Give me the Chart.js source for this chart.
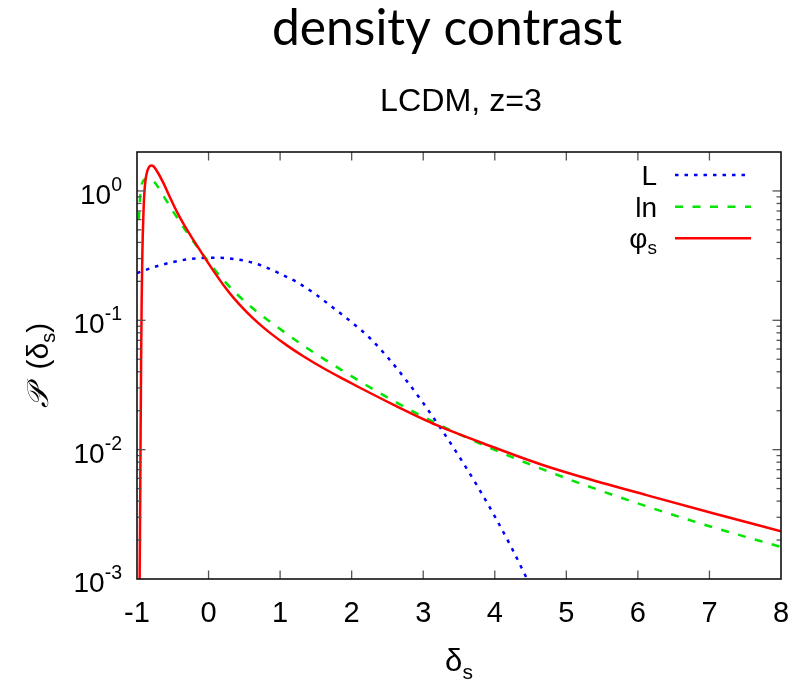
<!DOCTYPE html>
<html>
<head>
<meta charset="utf-8">
<script src="https://cdn.jsdelivr.net/npm/chart.js@4.4.0/dist/chart.umd.min.js"></script>
<style>
html,body{margin:0;padding:0;background:#fff;}
#wrap{width:800px;height:685px;position:relative;}
</style>
</head>
<body>
<div id="wrap"><canvas id="c" width="800" height="685"></canvas></div>
<script>
// ---- text ----
const titleText = 'density contrast';
const subtitleText = 'LCDM, z=3';
const seriesNames = ['L', 'ln', 'φ'];   // third gets subscript "s"
const seriesSub = ['', '', 's'];

// ---- tick labels ----
const xTickLabels = ['-1', '0', '1', '2', '3', '4', '5', '6', '7', '8'];
const yDecades = [0, -1, -2, -3];   // labels 10^0 ... 10^-3

// ---- series: L (dotted blue) ----
const deltaL = [-1, -0.75, -0.5, -0.25, 0, 0.25, 0.5, 0.75, 1.0, 1.25, 1.5, 1.75, 2.0, 2.25, 2.5, 2.75, 3.0, 3.25, 3.5, 3.75, 4.0, 4.25, 4.5, 4.6];
const pL     = [0.232, 0.259, 0.282, 0.298, 0.305, 0.302, 0.289, 0.264, 0.229, 0.195, 0.158, 0.124, 0.0966, 0.0733, 0.0519, 0.0351, 0.0229, 0.01445, 0.0089, 0.0053, 0.00305, 0.00168, 0.00088, 0.00068];

// ---- series: ln (dashed green) ----
const deltaLn = [-0.975, -0.96, -0.94, -0.92, -0.88, -0.84, -0.80, -0.73, -0.65, -0.57, -0.49, -0.32, -0.07, 0.21, 0.54, 0.96, 1.38, 1.98, 2.16, 2.63, 3.19, 4.07, 4.82, 5.28, 6.12, 7.05, 8.0];
const pLn     = [0.60, 0.85, 1.08, 1.18, 1.24, 1.26, 1.24, 1.12, 0.95, 0.81, 0.686, 0.495, 0.318, 0.204, 0.1346, 0.0888, 0.0608, 0.0375, 0.0326, 0.0231, 0.0159, 0.00957, 0.00655, 0.00527, 0.00365, 0.00251, 0.00177];

// ---- series: phi_s (solid red) ----
const deltaPhi = [-0.965, -0.957, -0.95, -0.943, -0.935, -0.925, -0.912, -0.898, -0.88, -0.86, -0.835, -0.80, -0.77, -0.72, -0.63, -0.55, -0.44, -0.35, -0.255, -0.15, -0.045, 0.1, 0.21, 0.35, 0.537, 0.7, 0.863, 1.1, 1.33, 1.6, 1.887, 2.116, 2.58, 3.19, 3.98, 4.68, 5.19, 6.12, 7.05, 8.0];
const pPhi     = [0.0007, 0.003, 0.012, 0.045, 0.14, 0.33, 0.62, 0.95, 1.22, 1.40, 1.52, 1.57, 1.55, 1.42, 1.15, 0.917, 0.686, 0.557, 0.456, 0.369, 0.30, 0.2275, 0.1866, 0.149, 0.115, 0.0946, 0.0796, 0.0637, 0.0525, 0.0428, 0.0351, 0.0301, 0.0223, 0.01545, 0.01045, 0.00757, 0.0062, 0.00445, 0.00322, 0.00234];

const colors = ['#0000ff', '#00e600', '#ff0000'];
const dashes = [[3.5, 6], [8, 9.5], []];
const widths = [2.5, 2.5, 2.5];

const SANS = '"Liberation Sans", Arial, Helvetica, sans-serif';
const TITLE_FONT = 'Lato, "Open Sans", sans-serif';

function pts(xa, ya) { return xa.map((x, i) => ({x: x, y: ya[i]})); }

function fitSize(ctx, text, family, target, guess) {
  ctx.font = guess + 'px ' + family;
  const w = ctx.measureText(text).width;
  return guess * target / w;
}

const decor = {
  id: 'decor',
  beforeDraw(chart) {
    const ctx = chart.ctx;
    ctx.save();
    ctx.fillStyle = '#fff';
    ctx.fillRect(0, 0, chart.width, chart.height);
    ctx.restore();
  },
  afterDatasetsDraw(chart) {
    const ctx = chart.ctx;
    const xs = chart.scales.x, ys = chart.scales.y;
    const a = chart.chartArea;
    const cx = (a.left + a.right) / 2;
    const cy = (a.top + a.bottom) / 2;
    ctx.save();

    // ticks
    ctx.strokeStyle = '#555';
    ctx.lineWidth = 1.3;
    function seg(x1, y1, x2, y2) { ctx.beginPath(); ctx.moveTo(x1, y1); ctx.lineTo(x2, y2); ctx.stroke(); }
    xTickLabels.forEach(t => {
      const px = xs.getPixelForValue(parseFloat(t));
      if (px <= a.left + 2 || px >= a.right - 2) return;
      seg(px, a.bottom, px, a.bottom - 8.5);
      seg(px, a.top, px, a.top + 8.5);
    });
    yDecades.forEach(e => {
      for (let m = 1; m < 10; m++) {
        const v = m * Math.pow(10, e);
        if (v > ys.max * 1.0001 || v < ys.min * 0.9999) continue;
        const py = ys.getPixelForValue(v);
        if (py < a.top + 2 || py > a.bottom - 2) continue;
        const len = (m === 1) ? 8.5 : 4.5;
        seg(a.left, py, a.left + len, py);
        seg(a.right, py, a.right - len, py);
      }
    });

    // frame
    ctx.strokeStyle = '#111';
    ctx.lineWidth = 1.6;
    ctx.strokeRect(a.left, a.top, a.right - a.left, a.bottom - a.top);

    // x tick labels
    ctx.fillStyle = '#000';
    ctx.font = '29px ' + SANS;
    ctx.textAlign = 'center';
    ctx.textBaseline = 'alphabetic';
    xTickLabels.forEach(t => {
      const px = xs.getPixelForValue(parseFloat(t));
      ctx.fillText(t, px, a.bottom + 42.5);
    });

    // y tick labels 10^e
    const R = a.left - 15;
    yDecades.forEach(e => {
      const py = ys.getPixelForValue(Math.pow(10, e));
      const ex = String(e);
      ctx.textAlign = 'left';
      ctx.font = '19.5px ' + SANS;
      const we = ctx.measureText(ex).width;
      ctx.fillText(ex, R - we, py);
      ctx.font = '28px ' + SANS;
      const wb = ctx.measureText('10').width;
      ctx.fillText('10', R - we - wb, py + 13);
    });

    // x axis title δs
    ctx.textAlign = 'left';
    ctx.font = '31px ' + SANS;
    const wd = ctx.measureText('δ').width;
    ctx.font = '21px ' + SANS;
    const ws = ctx.measureText('s').width;
    const x0 = cx - (wd + ws) / 2;
    ctx.font = '31px ' + SANS;
    ctx.fillText('δ', x0, 671);
    ctx.font = '21px ' + SANS;
    ctx.fillText('s', x0 + wd, 679);

    // y axis title 𝒫 (δs), rotated
    ctx.save();
    ctx.translate(48, cy);
    ctx.rotate(-Math.PI / 2);
    const partsMain = [
      {t: '𝒫', f: 'italic 30px "DejaVu Serif", "Liberation Serif", serif', dy: 0},
      {t: '  (δ', f: '30px ' + SANS, dy: 0},
      {t: 's', f: '20px ' + SANS, dy: 7},
      {t: ')', f: '30px ' + SANS, dy: 0}
    ];
    let tot = 0;
    partsMain.forEach(p => { ctx.font = p.f; p.w = ctx.measureText(p.t).width; tot += p.w; });
    let xx = -tot / 2;
    partsMain.forEach(p => { ctx.font = p.f; ctx.fillText(p.t, xx, p.dy); xx += p.w; });
    ctx.restore();

    // titles
    ctx.textAlign = 'center';
    let fs = fitSize(ctx, titleText, TITLE_FONT, 350, 42);
    ctx.font = fs + 'px ' + TITLE_FONT;
    ctx.fillText(titleText, 447, 45);
    fs = fitSize(ctx, subtitleText, SANS, 162, 30);
    ctx.font = fs + 'px ' + SANS;
    ctx.fillText(subtitleText, 461, 111);

    // legend
    const textRight = 657, lx1 = 675, lx2 = 751;
    const rows = [175, 206.7, 238.3];
    seriesNames.forEach((name, i) => {
      const ly = rows[i];
      ctx.textAlign = 'left';
      ctx.font = '28px ' + SANS;
      const wn = ctx.measureText(name).width;
      ctx.font = '19px ' + SANS;
      const wsub = seriesSub[i] ? ctx.measureText(seriesSub[i]).width : 0;
      const start = textRight - wn - wsub;
      ctx.font = '28px ' + SANS;
      ctx.fillText(name, start, ly + 10);
      if (seriesSub[i]) {
        ctx.font = '19px ' + SANS;
        ctx.fillText(seriesSub[i], start + wn, ly + 16);
      }
      ctx.strokeStyle = colors[i];
      ctx.lineWidth = widths[i];
      ctx.setLineDash(dashes[i]);
      ctx.beginPath();
      ctx.moveTo(lx1, ly);
      ctx.lineTo(lx2, ly);
      ctx.stroke();
      ctx.setLineDash([]);
    });

    ctx.restore();
  }
};

const chart = new Chart(document.getElementById('c'), {
  type: 'line',
  data: {
    datasets: [
      {label: seriesNames[0], data: pts(deltaL, pL), borderColor: colors[0], borderWidth: widths[0], borderDash: dashes[0], order: 3},
      {label: seriesNames[1], data: pts(deltaLn, pLn), borderColor: colors[1], borderWidth: widths[1], borderDash: dashes[1], order: 2},
      {label: seriesNames[2] + seriesSub[2], data: pts(deltaPhi, pPhi), borderColor: colors[2], borderWidth: widths[2], borderDash: dashes[2], order: 1}
    ]
  },
  options: {
    responsive: false,
    animation: false,
    devicePixelRatio: 1,
    parsing: false,
    elements: {
      point: {radius: 0, hoverRadius: 0},
      line: {cubicInterpolationMode: 'monotone', fill: false, borderCapStyle: 'butt'}
    },
    layout: {padding: {top: 152, right: 19, left: 0, bottom: 0}},
    plugins: {legend: {display: false}, title: {display: false}, tooltip: {enabled: false}},
    events: [],
    scales: {
      x: {
        type: 'linear', min: -1, max: 8,
        grid: {display: false}, border: {display: false},
        ticks: {display: false, stepSize: 1},
        afterFit(s) { s.height = 106; }
      },
      y: {
        type: 'logarithmic', min: 0.001, max: 2,
        grid: {display: false}, border: {display: false},
        ticks: {display: false},
        afterFit(s) { s.width = 137; }
      }
    }
  },
  plugins: [decor]
});
</script>
</body>
</html>
